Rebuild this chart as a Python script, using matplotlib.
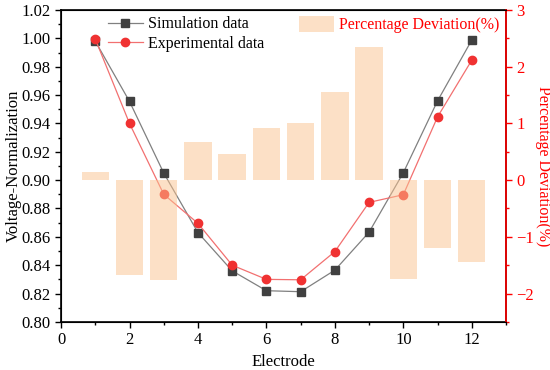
import numpy as np
import matplotlib
matplotlib.use('Agg')
import matplotlib.pyplot as plt
from matplotlib.ticker import MultipleLocator, FormatStrFormatter

plt.rcParams['font.family'] = ['Liberation Serif', 'DejaVu Serif']

electrode = [1, 2, 3, 4, 5, 6, 7, 8, 9, 10, 11, 12]
simulation = [0.998, 0.9555, 0.905, 0.863, 0.836, 0.822, 0.8213, 0.8365, 0.8633, 0.9052, 0.9559, 0.9988]
experimental = [0.9995, 0.940, 0.890, 0.8695, 0.840, 0.830, 0.8297, 0.8496, 0.8843, 0.8897, 0.9446, 0.9846]
deviation = [0.14, -1.68, -1.76, 0.68, 0.46, 0.92, 1.0, 1.56, 2.35, -1.74, -1.19, -1.44]

fs = 12

fig = plt.figure(figsize=(5.5, 3.7), dpi=100)
ax = fig.add_axes([0.111, 0.130, 0.809, 0.843])

l1, = ax.plot(electrode, simulation, color='#808080', lw=0.9, marker='s', ms=5.5,
              mfc='#404040', mec='#404040', label='Simulation data', zorder=2)
l2, = ax.plot(electrode, experimental, color='#F27070', lw=0.9, marker='o', ms=6,
              mfc='#F03232', mec='#F03232', label='Experimental data', zorder=2)
ax.set_xlim(0, 13)
ax.set_ylim(0.80, 1.02)
ax.xaxis.set_major_locator(MultipleLocator(2))
ax.xaxis.set_minor_locator(MultipleLocator(1))
ax.yaxis.set_major_locator(MultipleLocator(0.02))
ax.yaxis.set_minor_locator(MultipleLocator(0.01))
ax.yaxis.set_major_formatter(FormatStrFormatter('%.2f'))
ax.tick_params(which='both', direction='out', labelsize=fs, top=False, right=False)
ax.tick_params(which='major', length=4, width=1)
ax.tick_params(which='minor', length=2.5, width=1)
ax.set_xlabel('Electrode', fontsize=fs)
ax.set_ylabel('Voltage-Normalization', fontsize=fs, labelpad=0)
for s in ax.spines.values():
    s.set_linewidth(1.2)

ax2 = ax.twinx()
bars = ax2.bar(electrode, deviation, width=0.8, color='#FBC38F', alpha=0.5,
               label='Percentage Deviation(%)', zorder=3)
ax2.set_ylim(-2.5, 3)
ax2.yaxis.set_major_locator(MultipleLocator(1))
ax2.yaxis.set_minor_locator(MultipleLocator(0.5))
ax2.tick_params(which='both', direction='out', colors='red', labelsize=fs)
ax2.tick_params(which='major', length=4, width=1)
ax2.tick_params(which='minor', length=2.5, width=1)
ax2.spines['right'].set_color('red')
ax2.spines['right'].set_linewidth(1.2)
ax2.set_ylabel('Percentage Deviation(%)', color='red', fontsize=11.5, rotation=270, labelpad=12)

leg = ax2.legend(handles=[bars], loc='upper right', bbox_to_anchor=(1.0, 1.0), frameon=False,
                 fontsize=11.5, handlelength=2.2, handleheight=1.1, handletextpad=0.3,
                 borderaxespad=0)
for t in leg.get_texts():
    t.set_color('red')
ax2.legend(handles=[l1, l2], loc='upper left', bbox_to_anchor=(0.091, 1.0), frameon=False,
           fontsize=11.5, handlelength=2.2, handletextpad=0.3, borderaxespad=0,
           labelspacing=0.2)
ax2.add_artist(leg)

plt.savefig('out.png', dpi=100)
